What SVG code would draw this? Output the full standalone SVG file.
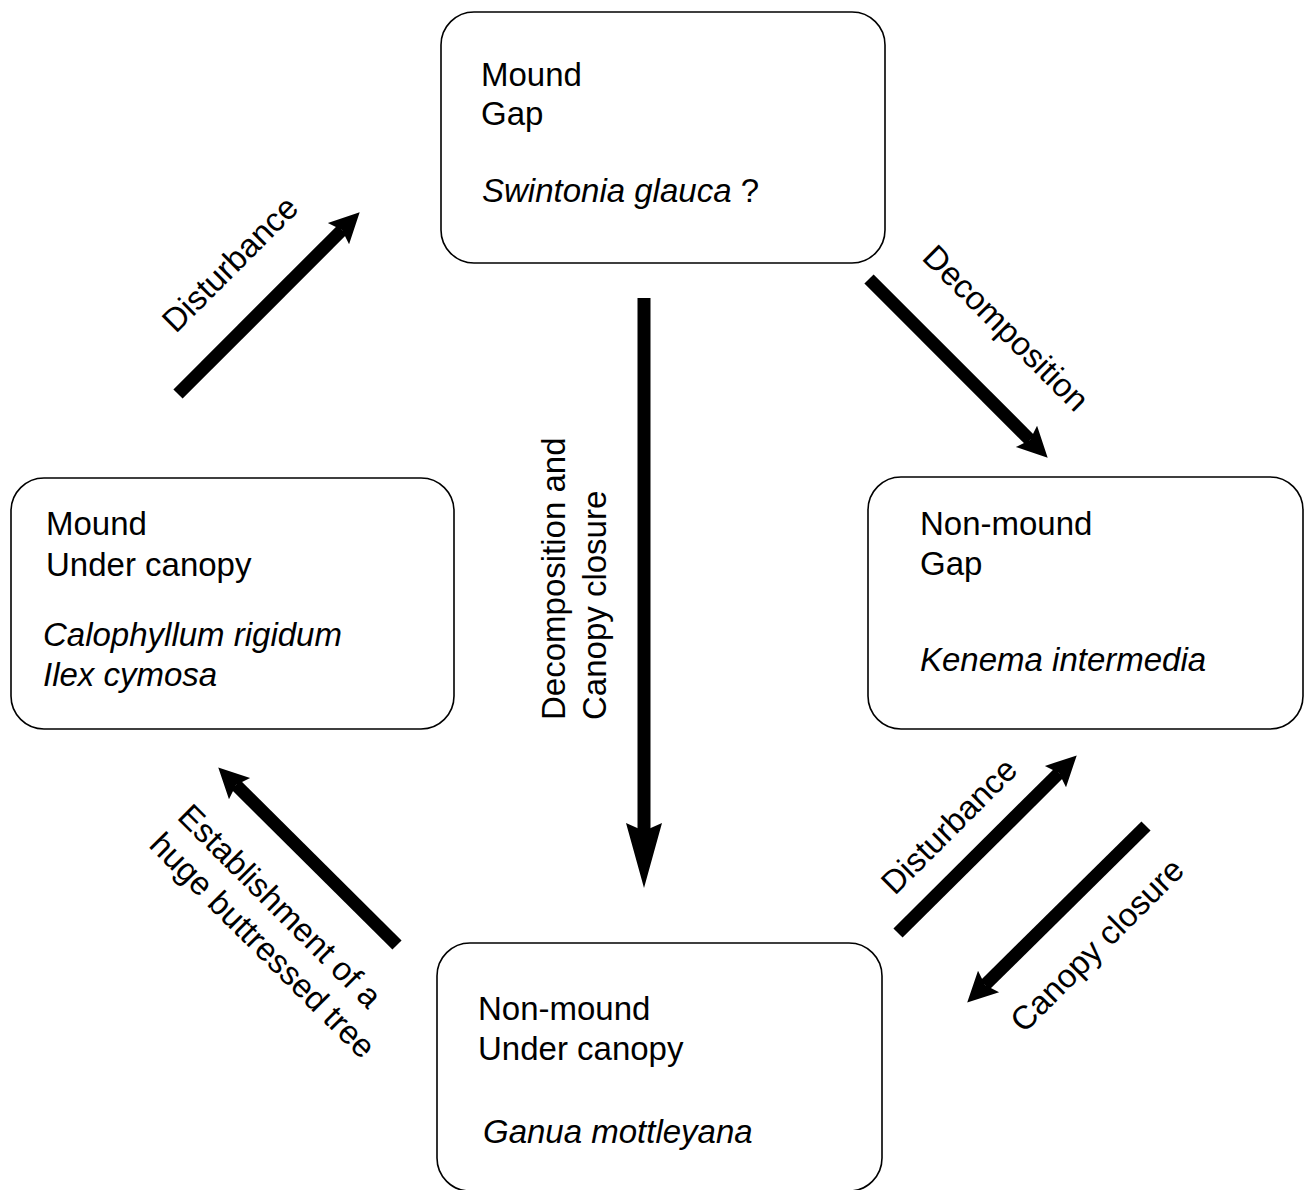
<svg xmlns="http://www.w3.org/2000/svg" width="1304" height="1190" viewBox="0 0 1304 1190">
<style>
.box{fill:#fff;stroke:#000;stroke-width:1.6}
.t{font-family:"Liberation Sans",Arial,sans-serif;font-size:33px;fill:#000}
.i{font-style:italic}
.lbl{font-family:"Liberation Sans",Arial,sans-serif;font-size:33px;fill:#000}
.arr{stroke:#000;stroke-width:13;fill:none}
.d{marker-end:url(#hd)}
.v{marker-end:url(#hv)}
</style>
<defs>
<marker id="hd" markerUnits="userSpaceOnUse" orient="auto" refX="5" refY="0" markerWidth="40" markerHeight="40" overflow="visible">
<path d="M30,0 L0,-15 L5,0 L0,15 Z" fill="#000"/>
</marker>
<marker id="hv" markerUnits="userSpaceOnUse" orient="auto" refX="8" refY="0" markerWidth="70" markerHeight="40" overflow="visible">
<path d="M65,0 L0,-18 L8,0 L0,18 Z" fill="#000"/>
</marker>
</defs>
<rect width="1304" height="1190" fill="#fff"/>
<g id="connectors">
<line class="arr d" x1="178" y1="394" x2="342" y2="230"/>
<line class="arr d" x1="869" y1="279" x2="1030" y2="440"/>
<line class="arr v" x1="644" y1="298" x2="644" y2="831"/>
<line class="arr d" x1="898" y1="933" x2="1059" y2="773"/>
<line class="arr d" x1="1146" y1="826" x2="985" y2="985"/>
<line class="arr d" x1="397" y1="945" x2="236" y2="785"/>
<text class="lbl" text-anchor="middle" transform="translate(238,272) rotate(-45)">Disturbance</text>
<text class="lbl" text-anchor="middle" transform="translate(998,336) rotate(45)">Decomposition</text>
<text class="lbl" transform="translate(565,720) rotate(-90)"><tspan x="0" y="0">Decomposition and</tspan><tspan x="0" y="41">Canopy closure</tspan></text>
<text class="lbl" text-anchor="middle" transform="translate(957,834) rotate(-45)">Disturbance</text>
<text class="lbl" text-anchor="middle" transform="translate(1105,953) rotate(-45)">Canopy closure</text>
<text class="lbl" transform="translate(176,818) rotate(45)"><tspan x="0" y="0">Establishment of a</tspan><tspan x="0" y="40">huge buttressed tree</tspan></text>
</g>
<g id="node-top">
<rect class="box" x="441" y="12" width="444" height="251" rx="33" ry="33"/>
<text class="t" x="481" y="86">Mound</text>
<text class="t" x="481" y="125">Gap</text>
<text class="t" x="482" y="202"><tspan class="i">Swintonia glauca</tspan> ?</text>
</g>
<g id="node-left">
<rect class="box" x="11" y="478" width="443" height="251" rx="33" ry="33"/>
<text class="t" x="46" y="535">Mound</text>
<text class="t" x="46" y="576">Under canopy</text>
<text class="t i" x="43" y="646">Calophyllum rigidum</text>
<text class="t i" x="43" y="686">Ilex cymosa</text>
</g>
<g id="node-right">
<rect class="box" x="868" y="477" width="435" height="252" rx="33" ry="33"/>
<text class="t" x="920" y="535">Non-mound</text>
<text class="t" x="920" y="575">Gap</text>
<text class="t i" x="920" y="671">Kenema intermedia</text>
</g>
<g id="node-bottom">
<rect class="box" x="437" y="943" width="445" height="248" rx="33" ry="33"/>
<text class="t" x="478" y="1020">Non-mound</text>
<text class="t" x="478" y="1060">Under canopy</text>
<text class="t i" x="483" y="1143">Ganua mottleyana</text>
</g>
</svg>
